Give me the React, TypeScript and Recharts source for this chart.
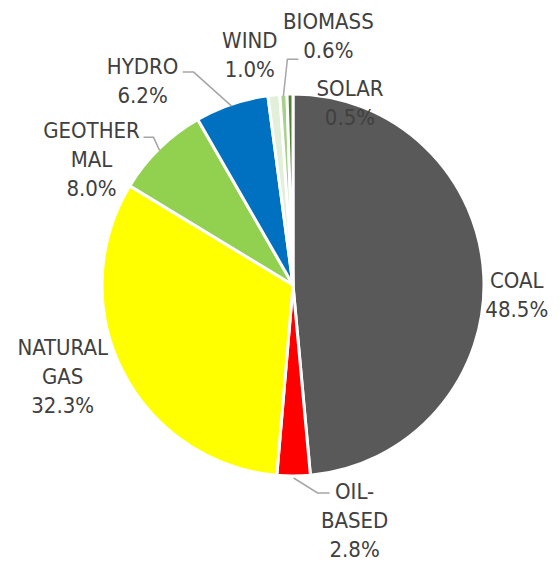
import { PieChart, Pie, Cell } from "recharts";

const categories = ["COAL", "OIL-BASED", "NATURAL GAS", "GEOTHERMAL", "HYDRO", "WIND", "BIOMASS", "SOLAR"];
const shares = [48.5, 2.8, 32.3, 8.0, 6.2, 1.0, 0.6, 0.5];
const colors = ["#595959", "#FF0000", "#FFFF00", "#92D050", "#0070C0", "#E2F0D9", "#A9D18E", "#548235"];

// how the category names wrap in the labels
const wrapped: Record<string, string[]> = {
  "OIL-BASED": ["OIL-", "BASED"],
  "NATURAL GAS": ["NATURAL", "GAS"],
  GEOTHERMAL: ["GEOTHER", "MAL"],
};

// label block centre, relative to the slice's outer mid point
const labelOffset: Record<string, [number, number]> = {
  COAL: [33, 18],
  "OIL-BASED": [61, 44],
  "NATURAL GAS": [-60, 4],
  GEOTHERMAL: [-68, 11],
  HYDRO: [-89, -24],
  WIND: [-24, -40],
  BIOMASS: [45, -59],
  SOLAR: [60, 8],
};

// leader lines: elbow and end, relative to the slice's outer mid point
const leader: Record<string, [number, number, number, number]> = {
  "OIL-BASED": [24, 17, 36, 17],
  GEOTHERMAL: [-6, -11, -16, -11],
  HYDRO: [-38, -32, -49, -32],
  BIOMASS: [4, -35, 15, -35],
};

const data = categories.map((name, i) => ({ name, value: shares[i] }));

const RADIAN = Math.PI / 180;
const LINE_H = 29;

function SliceLabel(props: any) {
  const { cx, cy, midAngle, outerRadius, name, value } = props;
  const ax = cx + outerRadius * Math.cos(-midAngle * RADIAN);
  const ay = cy + outerRadius * Math.sin(-midAngle * RADIAN);
  const [dx, dy] = labelOffset[name] ?? [0, 0];
  const lines = [...(wrapped[name] ?? [name]), `${value.toFixed(1)}%`];
  const bx = ax + dx;
  const top = ay + dy - ((lines.length - 1) * LINE_H) / 2;
  const l = leader[name];
  return (
    <g>
      {l && (
        <polyline
          points={`${ax},${ay + 2} ${ax + l[0]},${ay + l[1]} ${ax + l[2]},${ay + l[3]}`}
          fill="none"
          stroke="#A6A6A6"
          strokeWidth={1.5}
        />
      )}
      <text
        x={bx}
        y={top}
        textAnchor="middle"
        dominantBaseline="central"
        fill="#404040"
        fontSize={22}
        fontFamily="'Liberation Sans Narrow', 'DejaVu Sans Condensed', sans-serif"
      >
        {lines.map((t, i) => (
          <tspan key={i} x={bx} y={top + i * LINE_H}>
            {t}
          </tspan>
        ))}
      </text>
    </g>
  );
}

export default function App() {
  return (
    <div style={{ position: "absolute", left: 0, top: 0, background: "#fff" }}>
      <PieChart width={560} height={563} margin={{ top: 0, right: 0, bottom: 0, left: 0 }}>
        <Pie
          data={data}
          dataKey="value"
          nameKey="name"
          cx={293}
          cy={285}
          outerRadius={191}
          startAngle={90}
          endAngle={-270}
          stroke="#fff"
          strokeWidth={3}
          label={SliceLabel}
          labelLine={false}
          isAnimationActive={false}
        >
          {data.map((d, i) => (
            <Cell key={d.name} fill={colors[i]} />
          ))}
        </Pie>
      </PieChart>
    </div>
  );
}
